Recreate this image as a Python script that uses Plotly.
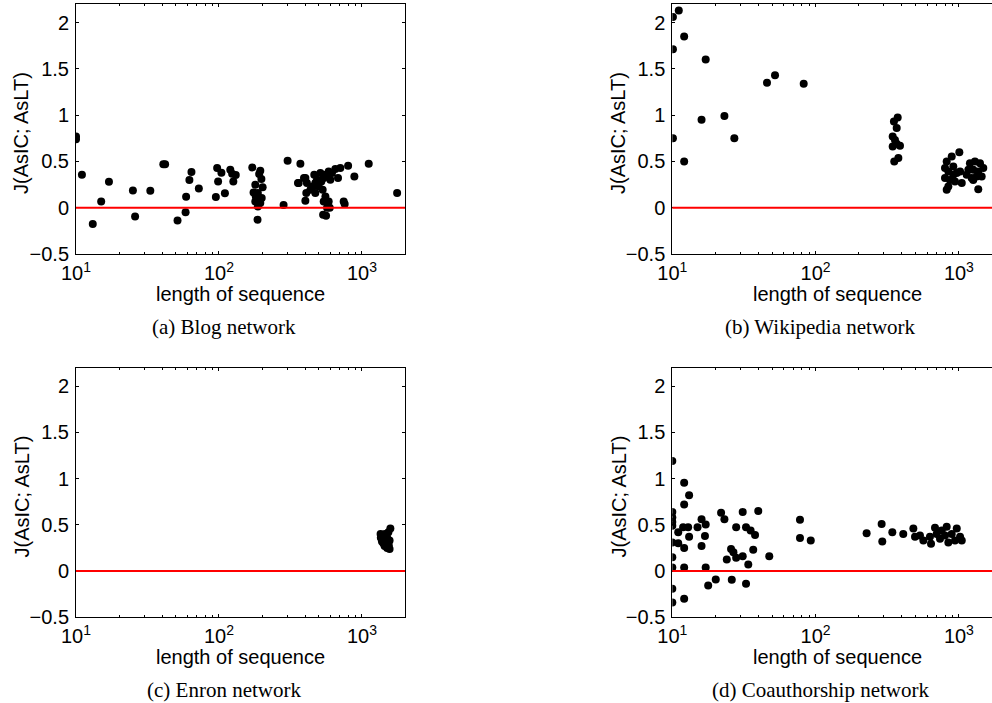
import math
import plotly.graph_objects as go

# ---------------- data ----------------
blog_x = [10, 10, 11.0, 13.1, 15.0, 17.0, 25.0, 25.9, 33.1, 40.8, 42, 51.3, 58.4, 58.9, 62.1, 64.2,
          72.3, 95.1, 97.1, 98.6, 104, 110, 120, 123.6, 126, 131, 171, 194.5, 191, 198, 179.5, 202,
          174.5, 187, 199, 179.5, 194.5, 187, 186, 181, 283, 302, 371, 361, 402, 402, 408, 393, 357,
          464, 512, 585, 651, 706, 800, 885, 680, 1115, 1762, 555, 585, 570, 595, 535, 561, 745, 757,
          498, 472, 436, 531, 485, 540, 601, 452, 520, 555, 617, 412, 472, 540]
blog_y = [0.77, 0.74, 0.356, -0.176, 0.068, 0.28, 0.187, -0.094, 0.184, 0.47, 0.47, -0.137, -0.05,
          0.119, 0.30, 0.386, 0.208, 0.115, 0.428, 0.284, 0.378, 0.155, 0.41, 0.367, 0.284, 0.353,
          0.435, 0.40, 0.364, 0.31, 0.248, 0.22, 0.165, 0.158, 0.105, 0.068, 0.05, 0.014, -0.13, 0.122,
          0.03, 0.507, 0.475, 0.267, 0.32, 0.076, 0.158, 0.32, 0.267, 0.356, 0.374, 0.39, 0.418, 0.428,
          0.453, 0.338, 0.32, 0.475, 0.158, 0.122, 0.068, 0.0, 0.0, -0.076, -0.086, 0.068, 0.04, 0.23,
          0.267, 0.194, 0.194, 0.302, 0.32, 0.302, 0.23, 0.284, 0.356, 0.374, 0.267, 0.158, 0.068]

wiki_x = [10.1, 11.1, 12.1, 10.1, 17.1, 10.1, 12.1, 16.0, 23.1, 27.1, 45.8, 52.1, 82.6,
          374, 352, 368, 345, 358, 345, 388, 368, 378, 354,
          1007, 891, 822, 800, 844, 914, 966, 1019, 800, 866, 939, 1047, 844, 822, 914,
          1194, 1294, 1403, 1480, 1164, 1259, 1365, 1133, 1228, 1330, 1442, 1259, 1365]
wiki_y = [2.06, 2.13, 1.85, 1.71, 1.60, 0.75, 0.50, 0.95, 0.99, 0.75, 1.35, 1.43, 1.34,
          0.975, 0.93, 0.86, 0.77, 0.73, 0.66, 0.67, 0.69, 0.536, 0.50,
          0.60, 0.554, 0.50, 0.43, 0.39, 0.446, 0.375, 0.39, 0.32, 0.30, 0.284, 0.267, 0.23, 0.194, 0.356,
          0.48, 0.50, 0.48, 0.43, 0.41, 0.41, 0.39, 0.356, 0.32, 0.338, 0.338, 0.30, 0.20]

enron_x = [1580, 1530, 1450, 1400, 1420, 1500, 1560, 1380, 1480, 1540, 1440, 1500, 1560, 1470,
           1410, 1520, 1350, 1355]
enron_y = [0.46, 0.42, 0.40, 0.38, 0.35, 0.36, 0.33, 0.32, 0.30, 0.28, 0.27, 0.25, 0.24, 0.33,
           0.30, 0.31, 0.40, 0.36]

coauth_x = [10, 10, 10, 10, 10, 10, 10, 10, 10, 10,
            11.0, 11.9, 12.9, 13.1, 11.0, 12.1, 12.1, 12.1, 12.1, 13.1, 12.1,
            15.0, 16.0, 17.1, 16.9, 16.0, 17.1, 17.8, 20.1, 21.9, 23.1, 27.9, 31.0, 39.8, 32.7, 35.2,
            37.8, 24.0, 25.7, 26.7, 27.9, 31.0, 33.9, 36.7, 47.5, 26.0, 32.7,
            77.8, 77.8, 92.5, 227, 289, 292, 343, 409,
            481, 494, 535, 565, 639, 681, 700, 738, 822, 800, 844, 891, 966, 1019, 759, 939, 1047, 628]
coauth_y = [1.19, 0.64, 0.58, 0.53, 0.49, 0.31, 0.15, 0.04, -0.19, -0.34,
            0.42, 0.475, 0.475, 0.37, 0.30, 0.25, 0.04, -0.30, 0.955, 0.82, 0.72,
            0.475, 0.56, 0.505, 0.38, 0.27, 0.04, -0.155, -0.09, 0.63, 0.56, 0.475, 0.64, 0.65, 0.475,
            0.44, 0.39, 0.126, 0.24, 0.205, 0.145, 0.16, 0.07, 0.23, 0.16, -0.095, -0.137,
            0.555, 0.357, 0.33, 0.41, 0.51, 0.32, 0.42, 0.40,
            0.46, 0.37, 0.385, 0.33, 0.296, 0.47, 0.40, 0.35, 0.48, 0.385, 0.31, 0.40, 0.46, 0.37, 0.44,
            0.33, 0.33, 0.37]

captions = ["(a) Blog network", "(b) Wikipedia network", "(c) Enron network", "(d) Coauthorship network"]
x_label = "length of sequence"
y_label = "J(AsIC; AsLT)"
x_tickvals = [10, 100, 1000]
x_ticktext = ["10<sup>1</sup>", "10<sup>2</sup>", "10<sup>3</sup>"]
y_tickvals = [-0.5, 0, 0.5, 1, 1.5, 2]
y_ticktext = ["\u22120.5", "0", "0.5", "1", "1.5", "2"]
y_range = [-0.5, 2.2]
x_range_left = [1, math.log10(2000)]

# ---------------- layout helpers ----------------
W, H = 992, 703
SANS = "Liberation Sans, Arial, Helvetica, sans-serif"
SERIF = "Liberation Serif, Times New Roman, serif"


def px_x(p):
    return p / W


def px_y(p):
    return 1 - p / H


# plot boxes in pixel coordinates (left, right, top, bottom)
boxes = [
    (76, 405, 4, 254),
    (672.3, 992, 4, 254),
    (76, 405, 367.7, 617.3),
    (672.3, 992, 367.7, 617.3),
]
decade_px = 143.3
x_range_right = [1, 1 + (992 - 672.3) / decade_px]

datasets = [(blog_x, blog_y), (wiki_x, wiki_y), (enron_x, enron_y), (coauth_x, coauth_y)]

fig = go.Figure()
annotations = []
shapes = []

for i, ((xs, ys), (l, r, t, b)) in enumerate(zip(datasets, boxes)):
    n = "" if i == 0 else str(i + 1)
    xa = "x" + n
    ya = "y" + n
    fig.add_trace(go.Scatter(
        x=xs, y=ys, mode="markers", xaxis=xa, yaxis=ya,
        marker=dict(color="black", size=8, line=dict(width=0)),
        showlegend=False, hoverinfo="x+y",
    ))
    right_col = i % 2 == 1
    xr = x_range_right if right_col else x_range_left
    fig.update_layout(**{
        "xaxis" + n: dict(
            domain=[px_x(l), px_x(r)], anchor=ya, type="log", range=xr,
            showgrid=False, zeroline=False, showline=True, linecolor="black", linewidth=1,
            mirror="ticks", ticks="inside", ticklen=3, tickwidth=1, tickcolor="black",
            tickvals=x_tickvals, ticktext=x_ticktext,
            minor=dict(ticks="inside", ticklen=2, tickwidth=1, tickcolor="black",
                       tickvals=[k * 10 ** e for e in range(1, 4) for k in range(2, 10)],
                       showgrid=False),
            tickfont=dict(family=SANS, size=20, color="black"),
            ticklabelstandoff=1,
            automargin=False,
            fixedrange=True,
        ),
        "yaxis" + n: dict(
            domain=[px_y(b), px_y(t)], anchor=xa, range=y_range,
            showgrid=False, zeroline=False, showline=True, linecolor="black", linewidth=1,
            mirror=False if right_col else "ticks",
            ticks="inside", ticklen=3, tickwidth=1, tickcolor="black",
            tickvals=y_tickvals, ticktext=y_ticktext,
            tickfont=dict(family=SANS, size=20, color="black"),
            ticklabelstandoff=2,
            automargin=False,
            fixedrange=True,
        ),
    })
    # red reference line at y = 0
    shapes.append(dict(type="line", xref=xa + " domain", yref=ya, x0=0, x1=1, y0=0, y1=0,
                       line=dict(color="red", width=2), layer="above"))
    # axis titles
    xcenter = 837 if right_col else 240.5
    annotations.append(dict(text=x_label, xref="paper", yref="paper",
                            x=px_x(xcenter), y=px_y(b + 40), xanchor="center", yanchor="middle",
                            showarrow=False, font=dict(family=SANS, size=20, color="black")))
    ytx = 618 if right_col else 21
    annotations.append(dict(text=y_label, xref="paper", yref="paper", textangle=-90,
                            x=px_x(ytx), y=px_y((t + b) / 2 + 4), xanchor="center", yanchor="middle",
                            showarrow=False, font=dict(family=SANS, size=20, color="black")))
    ccenter = 820 if right_col else 224
    annotations.append(dict(text=captions[i], xref="paper", yref="paper",
                            x=px_x(ccenter), y=px_y(b + 73), xanchor="center", yanchor="middle",
                            showarrow=False, font=dict(family=SERIF, size=21, color="black")))

fig.update_layout(
    width=W, height=H, margin=dict(l=0, r=0, t=0, b=0),
    paper_bgcolor="white", plot_bgcolor="white",
    annotations=annotations, shapes=shapes,
)

fig.write_html(
    "out.html",
    config={"displayModeBar": False},
    post_script="document.body.style.margin='0px';document.body.style.overflow='hidden';",
)
